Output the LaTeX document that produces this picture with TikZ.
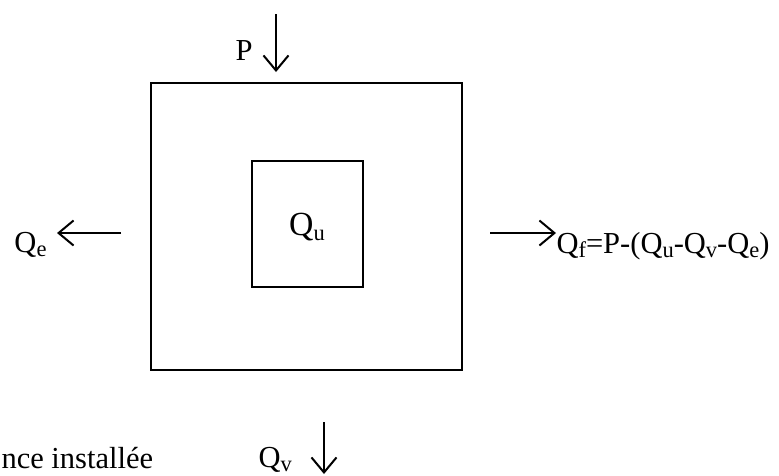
\documentclass[tikz,border=0pt]{standalone}
\usepackage{fontspec}
\setmainfont{Liberation Serif}
\usetikzlibrary{arrows.meta}
\newcommand\ind[1]{\raisebox{-0.35ex}{\fontsize{9pt}{10pt}\selectfont #1}}

\begin{document}
\begin{tikzpicture}[x=0.4pt,y=-0.4pt]
\tikzset{fleche/.style={-{Straight Barb[length=6pt,width=10pt,line width=0.8pt]},line width=0.75pt},
         txt/.style={inner sep=0pt,font=\fontsize{12.2pt}{14pt}\selectfont},
         boite/.style={draw,line width=0.45pt,inner sep=0pt}}
\useasboundingbox (0,0) rectangle (779,475);

% Boites
\node (ext) at (306.5,226.5) [boite,minimum width=124.4pt,minimum height=114.8pt] {};
\node (int) at (307.5,224) [boite,minimum width=44.4pt,minimum height=50.4pt] {};
\node (qu) at (307,235) [txt,anchor=base,font=\fontsize{13.5pt}{16pt}\selectfont] {Q\ind{u}};
% Textes
\node (p) at (235,60) [txt,anchor=base west] {P};
\node (qe) at (14,252) [txt,anchor=base west] {Q\ind{e}};
\node (qf) at (556,253) [txt,anchor=base west] {Q\ind{f}=P-(Q\ind{u}-Q\ind{v}-Q\ind{e})};
\node (qv) at (258,467) [txt,anchor=base west] {Q\ind{v}};
\node (pi) at (1,468) [txt,anchor=base west] {nce installée};
% Bouts des fleches
\coordinate (p1) at (276,14);
\coordinate (p2) at (276,72);
\coordinate (e1) at (121,233);
\coordinate (e2) at (57,233);
\coordinate (f1) at (490,233);
\coordinate (f2) at (qf.west |- f1);
\coordinate (v1) at (324,422);
\coordinate (v2) at (324,474);

\path
(p1) edge [fleche] (p2)
(e1) edge [fleche] (e2)
(f1) edge [fleche] (f2)
(v1) edge [fleche] (v2);

\end{tikzpicture}
\end{document}
